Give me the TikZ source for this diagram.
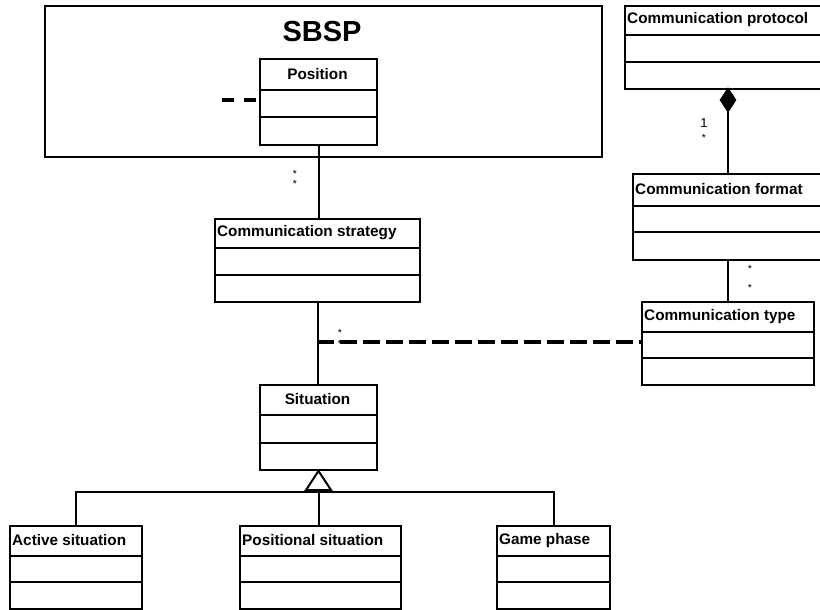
\documentclass[tikz,border=0pt]{standalone}
\usepackage{fontspec}
\setmainfont{Liberation Sans}
\usetikzlibrary{shapes.geometric,calc}
\tikzset{
  cls/.style={draw, line width=2pt, fill=white, inner sep=0pt, anchor=north west},
  divider/.style={line width=2pt},
  clstitle/.style={font=\fontsize{15.3}{15.3}\selectfont\bfseries, inner sep=0pt},
  conn/.style={line width=2pt},
  depline/.style={line width=3.2pt, dash pattern=on 17pt off 6pt},
  stubline/.style={line width=3.2pt, dash pattern=on 12pt off 10pt},
  mult/.style={font=\fontsize{10.5}{10.5}\selectfont, inner sep=0pt, anchor=base},
  multone/.style={font=\fontsize{13}{13}\selectfont, inner sep=0pt, anchor=base},
  pkg/.style={draw, line width=2pt, inner sep=0pt, anchor=north west},
  comp/.style={diamond, draw, fill=black, line width=1pt, inner sep=0pt, minimum width=16pt, minimum height=24pt},
  gen/.style={line width=2pt, fill=white, line join=miter}
}
% name, left, right, top, div1, div2, bottom, title, align(c/l)
\newcommand\umlclass[9]{%
  \node[cls, minimum width={#3-#2}, minimum height={#7-#4}] (#1) at (#2,#4) {};
  \draw[divider] (#2,#5) -- (#3,#5);
  \draw[divider] (#2,#6) -- (#3,#6);
  \if#9c
    \node[clstitle] (#1-t) at ({(#2+#3)/2},{(#4+#5)/2}) {#8};
  \else
    \node[clstitle, anchor=west] (#1-t) at ({#2+3},{(#4+#5)/2}) {#8};
  \fi
}
\begin{document}
\begin{tikzpicture}[x=1pt,y=-1pt]
\useasboundingbox (0,0) rectangle (820,610);
\clip (0,0) rectangle (820,610);
\fill[white] (0,0) rectangle (820,610);

% SBSP package
\node[pkg, minimum width=557pt, minimum height=151pt] (sbsp) at (44,5) {};
\node[font=\fontsize{29}{29}\selectfont\bfseries, inner sep=0pt] (sbsp-t) at (322,32) {SBSP};

\umlclass{pos}{259}{376}{58}{90}{117}{144}{Position}{c}
\umlclass{cstrat}{214}{419}{218}{248}{275}{301}{Communication strategy}{l}
\umlclass{proto}{624}{830}{5}{35}{62}{88}{Communication protocol}{l}
\umlclass{cformat}{632}{830}{173}{206}{232}{259}{Communication format}{l}
\umlclass{ctype}{641}{813}{301}{332}{358}{384}{Communication type}{l}
\umlclass{sit}{259}{376}{384}{415}{443}{469}{Situation}{c}
\umlclass{active}{9}{141}{525}{556}{582}{608}{Active situation}{l}
\umlclass{positional}{239}{400}{525}{556}{582}{608}{Positional situation}{l}
\umlclass{game}{496}{609}{525}{556}{582}{608}{Game phase}{l}

% stub dashed line into Position
\coordinate (stub) at (222,100);
\draw[stubline] (stub) -- (pos.west |- stub);

% Position -- Communication strategy
\draw[conn] (pos.south) -- (pos.south |- cstrat.north);
\node[mult] (m1) at (295,177) {*};
\node[mult] (m2) at (295,187) {*};

% Communication strategy -- Situation
\draw[conn] (cstrat.south) -- (cstrat.south |- sit.north);

% dependency from Communication type
\coordinate (j) at (317,342);
\draw[depline] (j) -- (ctype.west |- j);
\node[mult] (m3) at (340,336) {*};
\node[mult] (m4) at (340,347) {*};

% composition protocol - format
\node[comp] (dia) at (728,100) {};
\draw[conn] (dia.south) -- (dia.south |- cformat.north);
\node[multone] (m5) at (704,128) {1};
\node[mult] (m6) at (704,142) {*};

% format - type
\draw[conn] (dia.south |- cformat.south) -- (dia.south |- ctype.north);
\node[mult] (m7) at (750,272) {*};
\node[mult] (m8) at (750,291) {*};

% generalization
\draw[gen] (sit.south) -- ++(-12.5,19) coordinate (tl) -- ++(25,0) coordinate (tr) -- cycle;
\coordinate (tb) at ($(tl)!0.5!(tr)$);
\coordinate (bus) at (317,492);
\draw[conn] (tb) -- (tb |- positional.north);
\draw[conn] (active.north) |- (bus) -| (game.north);
\end{tikzpicture}
\end{document}
